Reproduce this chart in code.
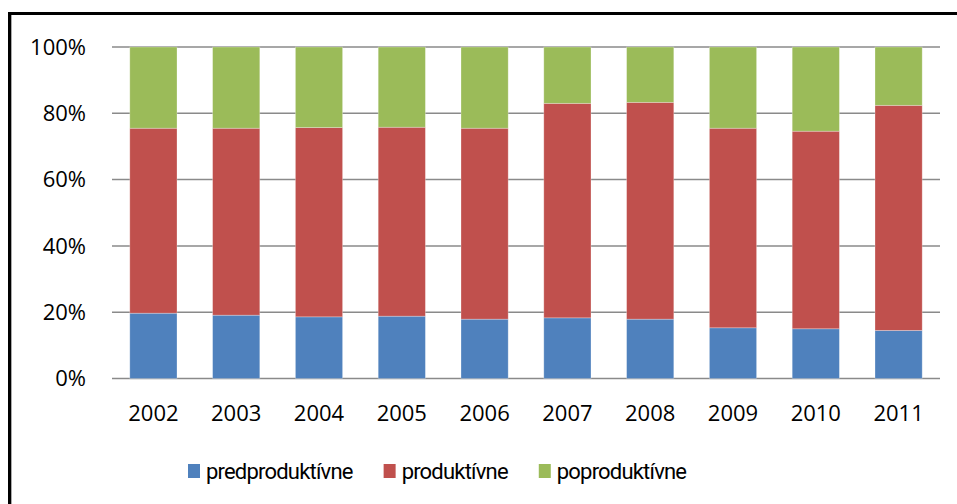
<!DOCTYPE html>
<html>
<head>
<meta charset="utf-8">
<script src="https://cdn.jsdelivr.net/npm/d3@7"></script>
<style>
  body { margin: 0; background: #fff; }
  text { font-family: "Open Sans", "Noto Sans", sans-serif; fill: #000; }
  .legend text { font-family: Roboto, "Open Sans", sans-serif; }
</style>
</head>
<body>
<div id="chart"></div>
<script>
const width = 957;
const height = 504;

// data (shares in %)
const years = ["2002", "2003", "2004", "2005", "2006", "2007", "2008", "2009", "2010", "2011"];
const predproduktivne = [19.7, 19.1, 18.6, 18.8, 17.9, 18.3, 17.9, 15.3, 15.0, 14.5];
const produktivne = [55.8, 56.4, 57.1, 57.0, 57.6, 64.7, 65.4, 60.2, 59.6, 67.9];
const poproduktivne = [24.5, 24.5, 24.3, 24.2, 24.5, 17.0, 16.7, 24.5, 25.4, 17.6];
const seriesNames = ["predproduktívne", "produktívne", "poproduktívne"];
const yTicks = [0, 20, 40, 60, 80, 100];

const colors = ["#4F81BD", "#C0504D", "#9BBB59"];

const svg = d3
  .select("#chart")
  .append("svg")
  .attr("width", width)
  .attr("height", height);

// outer frame (runs off the right / bottom edge)
svg
  .append("rect")
  .attr("x", 9.5)
  .attr("y", 13.5)
  .attr("width", 1200)
  .attr("height", 1200)
  .attr("fill", "none")
  .attr("stroke", "#000")
  .attr("stroke-width", 3);
svg
  .append("line")
  .attr("x1", 11.5)
  .attr("x2", 11.5)
  .attr("y1", 15)
  .attr("y2", height)
  .attr("stroke", "#aaa")
  .attr("stroke-width", 1);

const margin = { left: 112, right: 17, top: 47, bottom: 125.5 };

const x = d3
  .scaleBand()
  .domain(years)
  .range([margin.left, width - margin.right])
  .paddingInner(0.43)
  .paddingOuter(0.215);

const y = d3
  .scaleLinear()
  .domain([0, 100])
  .range([height - margin.bottom, margin.top]);

//-------gridlines-------//
svg
  .append("g")
  .selectAll("line")
  .data(yTicks)
  .join("line")
  .attr("x1", margin.left)
  .attr("x2", width - margin.right)
  .attr("y1", (d) => y(d))
  .attr("y2", (d) => y(d))
  .attr("stroke", "#8a8a8a")
  .attr("stroke-width", 1.5);

//-------stack-------//
const table = years.map((yr, i) => ({
  year: yr,
  predproduktívne: predproduktivne[i],
  produktívne: produktivne[i],
  poproduktívne: poproduktivne[i],
}));
const stacked = d3.stack().keys(seriesNames)(table);

svg
  .append("g")
  .selectAll("g")
  .data(stacked)
  .join("g")
  .attr("fill", (d, i) => colors[i])
  .selectAll("rect")
  .data((d) => d)
  .join("rect")
  .attr("x", (d) => x(d.data.year))
  .attr("y", (d) => y(d[1]))
  .attr("width", x.bandwidth())
  .attr("height", (d) => y(d[0]) - y(d[1]))
  .attr("stroke", "rgba(255,255,255,0.35)")
  .attr("stroke-width", 0.8);

//-------axes labels-------//
svg
  .append("g")
  .selectAll("text")
  .data(yTicks)
  .join("text")
  .attr("x", 86)
  .attr("y", (d) => y(d))
  .attr("dy", "0.35em")
  .attr("text-anchor", "end")
  .style("font-size", "22px")
  .text((d) => d + "%");

svg
  .append("g")
  .selectAll("text")
  .data(years)
  .join("text")
  .attr("x", (d) => x(d) + x.bandwidth() / 2)
  .attr("y", 413)
  .attr("dy", "0.35em")
  .attr("text-anchor", "middle")
  .style("font-size", "22px")
  .text((d) => d);

//-------legend-------//
const legend = svg.append("g").attr("class", "legend");
let lx = 188;
seriesNames.forEach((name, i) => {
  legend
    .append("rect")
    .attr("x", lx)
    .attr("y", 464)
    .attr("width", 12)
    .attr("height", 14)
    .attr("fill", colors[i]);
  const t = legend
    .append("text")
    .attr("x", lx + 18)
    .attr("y", 471)
    .attr("dy", "0.35em")
    .style("font-size", "22px")
    .style("letter-spacing", "-0.8px")
    .text(name);
  lx += 18 + t.node().getComputedTextLength() + 31;
});
</script>
</body>
</html>
